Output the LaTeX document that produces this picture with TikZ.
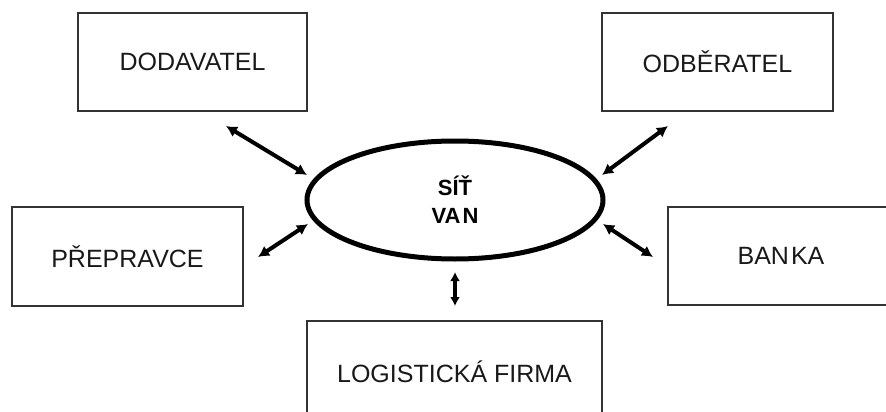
\documentclass[tikz,border=0pt]{standalone}
\usepackage{fontspec}
\setmainfont{Liberation Sans}
\usetikzlibrary{arrows.meta,shapes.geometric}

\tikzset{
  party/.style={draw=black!80, line width=1.5pt, rectangle, inner sep=0pt,
    font=\fontsize{25}{30}\selectfont, text=black!90},
  hub/.style={draw=black, line width=5pt, ellipse, inner sep=0pt,
    minimum width=296pt, minimum height=118pt, align=center,
    font=\fontsize{22}{28}\bfseries\selectfont},
  link/.style={line width=4pt, {Latex[length=11pt,width=12pt]}-{Latex[length=11pt,width=12pt]}}
}

\begin{document}
\begin{tikzpicture}[x=1pt,y=-1pt]
  \useasboundingbox (0,0) rectangle (886,412);
  \clip (0,0) rectangle (886,412);

  % central network
  \node[hub] (van) at (455,200) {SÍŤ\\VA\kern2pt N};

  % partners around the network
  \node[party, minimum width=229pt, minimum height=98pt] (dod) at (192.5,62) {DODAVATEL};
  \node[party, minimum width=231pt, minimum height=98pt] (odb) at (717.5,62) {ODBĚRATEL};
  \node[party, minimum width=231pt, minimum height=99pt] (pre) at (127.5,256.5) {PŘEPRAVCE};
  \node[party, minimum width=226pt, minimum height=98pt] (ban) at (781,256) {BAN\kern2pt KA};
  \node[party, minimum width=295pt, minimum height=102pt] (log) at (454.5,372) {LOGISTICKÁ FIRMA};

  % arrow end points
  \coordinate (dodA) at (226,126);  \coordinate (dodB) at (307,175);
  \coordinate (odbA) at (668,126);  \coordinate (odbB) at (602,175);
  \coordinate (preA) at (258,257);  \coordinate (preB) at (308,224);
  \coordinate (banA) at (653,257);  \coordinate (banB) at (603,224);
  \coordinate (logA) at (455,306);  \coordinate (logB) at (455,272);

  \draw[link] (dodA) -- (dodB);
  \draw[link] (odbA) -- (odbB);
  \draw[link] (preA) -- (preB);
  \draw[link] (banA) -- (banB);
  \draw[link, {Latex[length=9pt,width=10pt]}-{Latex[length=9pt,width=10pt]}] (logA) -- (logB);
\end{tikzpicture}
\end{document}
